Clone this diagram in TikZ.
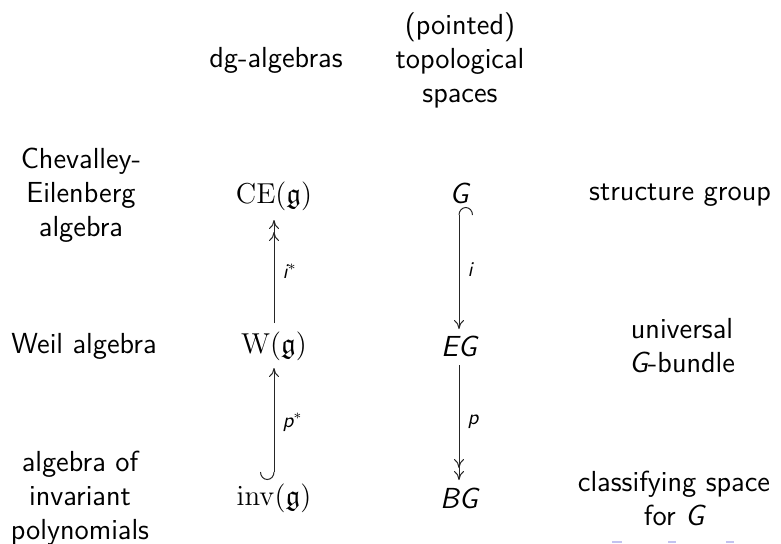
\documentclass[tikz,border=0pt]{standalone}
\usepackage{amssymb}
\usetikzlibrary{arrows.meta}
\tikzset{
  cmto/.tip={To[length=4.5pt,width=5pt]},
  hk/.tip={Hooks[right,width=14pt,length=4pt]},
  lbl/.style={font=\fontsize{14.5}{17}\selectfont\sffamily, align=center, inner sep=0pt},
  obj/.style={font=\fontsize{14.5}{17}\selectfont, inner sep=0pt},
  arrlbl/.style={font=\fontsize{10.5}{12}\selectfont\sffamily\slshape, inner sep=0pt, anchor=west},
  ar/.style={line width=0.5pt, draw=black!85},
  navmark/.style={fill={rgb,255:red,195;green,195;blue,240}, draw=none}
}
\begin{document}
\begin{tikzpicture}[x=0.5pt,y=-0.5pt]
\useasboundingbox (0,0) rectangle (781,543);
% headers
\node[lbl] (hA) at (276,60) {dg-algebras};
\node[lbl] (hB) at (460,60) {(pointed)\\topological\\spaces};
% left column
\node[lbl] (l1) at (81,195) {Chevalley-\\Eilenberg\\algebra};
\node[lbl] (l2) at (84,346) {Weil algebra};
\node[lbl] (l3) at (80,498) {algebra of\\invariant\\polynomials};
% algebra column
\node[obj] (CE) at (274,196) {$\mathrm{CE}(\mathfrak{g})$};
\node[obj] (W) at (274,346) {$\mathrm{W}(\mathfrak{g})$};
\node[obj] (inv) at (274,498) {$\mathrm{inv}(\mathfrak{g})$};
% space column
\node[lbl] (G) at (459,193) {\slshape G};
\node[lbl] (EG) at (459,346) {\slshape EG};
\node[lbl] (BG) at (459,498) {\slshape BG};
% right column
\node[lbl] (r1) at (680,195) {structure group};
\node[lbl] (r2) at (682,346) {universal\\{\slshape G}-bundle};
\node[lbl] (r3) at (674,498) {classifying space\\for {\slshape G}};
% arrows
\draw[ar, -{cmto[sep=1.5pt]cmto}, shorten <=11.5pt, shorten >=12pt] (W.center) -- (CE.center)
  node[arrlbl, pos=0.5, xshift=4pt] (lis) {i$^{*}$};
\draw[ar, {hk}-{cmto}, shorten <=9pt, shorten >=11pt] (inv.center) -- (W.center)
  node[arrlbl, pos=0.5, xshift=4pt] (lps) {p$^{*}$};
\draw[ar, {hk}-{cmto}, shorten <=7pt, shorten >=8.5pt] (G.center) -- (EG.center)
  node[arrlbl, pos=0.5, xshift=4pt] (li) {i};
\draw[ar, -{cmto[sep=1.5pt]cmto}, shorten <=9.5pt, shorten >=9pt] (EG.center) -- (BG.center)
  node[arrlbl, pos=0.5, xshift=4pt] (lp) {p};
% navigation marks
\path[navmark] (612,541) rectangle (622,543);
\path[navmark] (668,541) rectangle (676,543);
\path[navmark] (726,541) rectangle (734,543);
\end{tikzpicture}
\end{document}
